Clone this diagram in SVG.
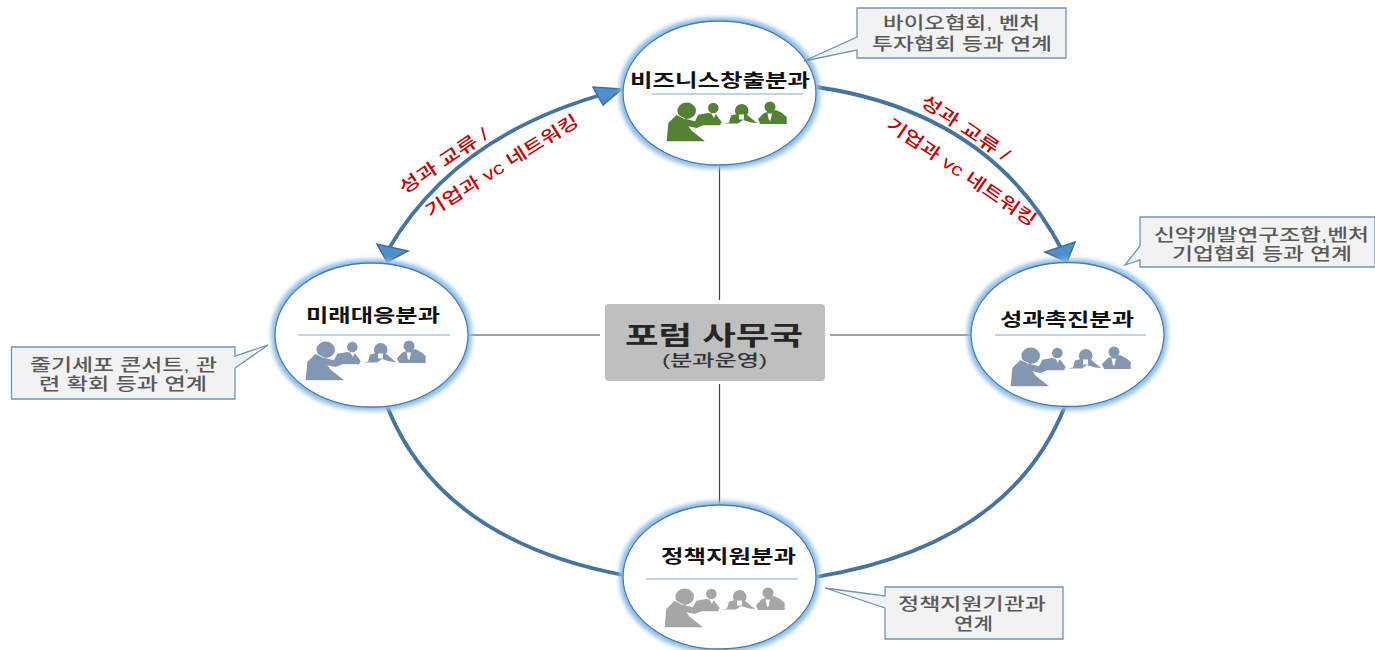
<svg xmlns="http://www.w3.org/2000/svg" width="1375" height="650" viewBox="0 0 1375 650">
<style>
text{font-family:"Liberation Sans","Noto Sans CJK KR",sans-serif;text-anchor:middle}
.t{font-size:18.500px;font-weight:700;fill:#111}
.c{font-size:16.500px;fill:#595959;font-weight:500}
.r{font-size:17.500px;fill:#c00000;font-weight:500}
.ci{fill:#fff;stroke:#4a7ba7;stroke-width:1.3;filter:url(#glow)}
.rule{stroke:#7fa8cf;stroke-width:1;fill:none}
.link{stroke:#444;stroke-width:1.200;fill:none}
.arc{stroke:#44749f;stroke-width:3.800;fill:none}
.call{fill:#f2f2f2;stroke:#6f94b8;stroke-width:1.3}
.head{fill:#4f8fcb;stroke:#3f6f9c;stroke-width:1.5}
</style>
<defs>
<filter id="glow" x="-15%" y="-15%" width="130%" height="130%">
<feMorphology in="SourceAlpha" operator="dilate" radius="3" result="d"/>
<feGaussianBlur in="d" stdDeviation="2.200" result="b"/>
<feFlood flood-color="#8dbdea" flood-opacity="1"/>
<feComposite in2="b" operator="in" result="g"/>
<feMerge><feMergeNode in="g"/><feMergeNode in="SourceGraphic"/></feMerge>
</filter>
<g id="people">
<ellipse cx="20.700" cy="8.700" rx="9.300" ry="8.200"/>
<path d="M.7 39.300L2.300 21L10.700 12.700L19 16.700L29 19.300L32.300 12.700L42.300 11L50.300 12.700L55.700 20L54 23.300L37.300 23.300L30.700 26L22.300 24.300L25.700 28.700L39 39.300Z"/>
<path d="M10.700 12.700L19 16.700" stroke="#fff" stroke-width=".8" fill="none"/>
<circle cx="47.300" cy="6" r="5.300"/>
<circle cx="75.700" cy="8.700" r="6.800"/>
<path d="M58 21.500L63 20.500L65 13.500L71 12L80 12L91 21L85 20.500L77 18L72 21.500Z"/>
<circle cx="104" cy="5" r="5.500"/>
<path d="M92 17L98 11L110 8L116 11L120.700 15L120.700 22L94 22Z"/>
<path d="M73 12.500h5v5h-5zM101.500 11.500l4.500 0l-1.500 7h-1.500zM45.500 12l4 0l-1.500 4z" fill="#fff"/>
</g>
</defs>

<g id="connectors">
<path class="link" d="M719.500 166V300M719.500 384V505M469 335H600M830 335H971"/>
<path class="arc" d="M388 250Q455 135 608 93"/>
<path class="arc" d="M816 87Q990 112 1062 250"/>
<path class="arc" d="M387 406Q440 540 623 575"/>
<path class="arc" d="M1065 406Q1010 545 816 577"/>
<polygon class="head" points="622,89 593,87 603,105"/>
<polygon class="head" points="387,262 408,251 377,244"/>
<polygon class="head" points="1067,262 1045,252 1075,242"/>
</g>

<g id="label-left">
<text class="r" transform="translate(447,166) rotate(-34)" textLength="103" lengthAdjust="spacingAndGlyphs">성과 교류 /</text>
<text class="r" transform="translate(505,171) rotate(-32)" textLength="177" lengthAdjust="spacingAndGlyphs">기업과 vc 네트워킹</text>
</g>
<g id="label-right">
<text class="r" transform="translate(962,133) rotate(34)" textLength="103" lengthAdjust="spacingAndGlyphs">성과 교류 /</text>
<text class="r" transform="translate(958,177) rotate(34.300)" textLength="177" lengthAdjust="spacingAndGlyphs">기업과 vc 네트워킹</text>
</g>

<g id="node-top">
<ellipse class="ci" cx="719.500" cy="93" rx="96.500" ry="72"/>
<text class="t" x="720" y="87" textLength="180" lengthAdjust="spacingAndGlyphs">비즈니스창출분과</text>
<path class="rule" d="M652 94H803"/>
<use href="#people" x="666" y="102" fill="#548235"/>
</g>
<g id="node-left">
<ellipse class="ci" cx="371.500" cy="335" rx="96.500" ry="72"/>
<text class="t" x="373" y="322" textLength="134" lengthAdjust="spacingAndGlyphs">미래대응분과</text>
<path class="rule" d="M298 335H450"/>
<use href="#people" x="305" y="341" fill="#8497b0"/>
</g>
<g id="node-right">
<ellipse class="ci" cx="1067.500" cy="334.500" rx="96.500" ry="72"/>
<text class="t" x="1067" y="326" textLength="134" lengthAdjust="spacingAndGlyphs">성과촉진분과</text>
<path class="rule" d="M995 335H1146"/>
<use href="#people" x="1010" y="347" fill="#8497b0"/>
</g>
<g id="node-bottom">
<ellipse class="ci" cx="719.500" cy="577" rx="96.500" ry="72"/>
<text class="t" x="728.500" y="563" textLength="135" lengthAdjust="spacingAndGlyphs">정책지원분과</text>
<path class="rule" d="M646 579H798"/>
<use href="#people" x="664" y="588" fill="#a6a6a6"/>
</g>

<g id="node-center">
<rect x="605" y="304" width="220" height="77" rx="4" fill="#bfbfbf"/>
<text x="714" y="345" font-size="26" font-weight="700" fill="#262626" textLength="178" lengthAdjust="spacingAndGlyphs">포럼 사무국</text>
<text x="714.500" y="366" font-size="16" font-weight="500" fill="#333" textLength="105" lengthAdjust="spacingAndGlyphs">(분과운영)</text>
</g>

<g id="callout-top">
<path class="call" d="M857 8H1066V58H857V50L804 61L857 37Z"/>
<text class="c" x="961.500" y="29" textLength="157" lengthAdjust="spacingAndGlyphs">바이오협회, 벤처</text>
<text class="c" x="962" y="50" textLength="180" lengthAdjust="spacingAndGlyphs">투자협회 등과 연계</text>
</g>
<g id="callout-right">
<path class="call" d="M1140 217H1375V267H1140V260L1125 265L1140 246Z"/>
<text class="c" x="1261.500" y="241" textLength="215" lengthAdjust="spacingAndGlyphs">신약개발연구조합,벤처</text>
<text class="c" x="1262" y="260" textLength="180" lengthAdjust="spacingAndGlyphs">기업협회 등과 연계</text>
</g>
<g id="callout-left">
<path class="call" d="M11.500 347H235V356L268 345L235 368V399H11.500Z"/>
<text class="c" x="123.500" y="371" textLength="187" lengthAdjust="spacingAndGlyphs">줄기세포 콘서트, 관</text>
<text class="c" x="123" y="390" textLength="168" lengthAdjust="spacingAndGlyphs">련 확회 등과 연계</text>
</g>
<g id="callout-bottom">
<path class="call" d="M885 587H1063V639H885V608L825 588L885 596Z"/>
<text class="c" x="972" y="610" textLength="148" lengthAdjust="spacingAndGlyphs">정책지원기관과</text>
<text class="c" x="973.500" y="630" textLength="39" lengthAdjust="spacingAndGlyphs">연계</text>
</g>
</svg>
